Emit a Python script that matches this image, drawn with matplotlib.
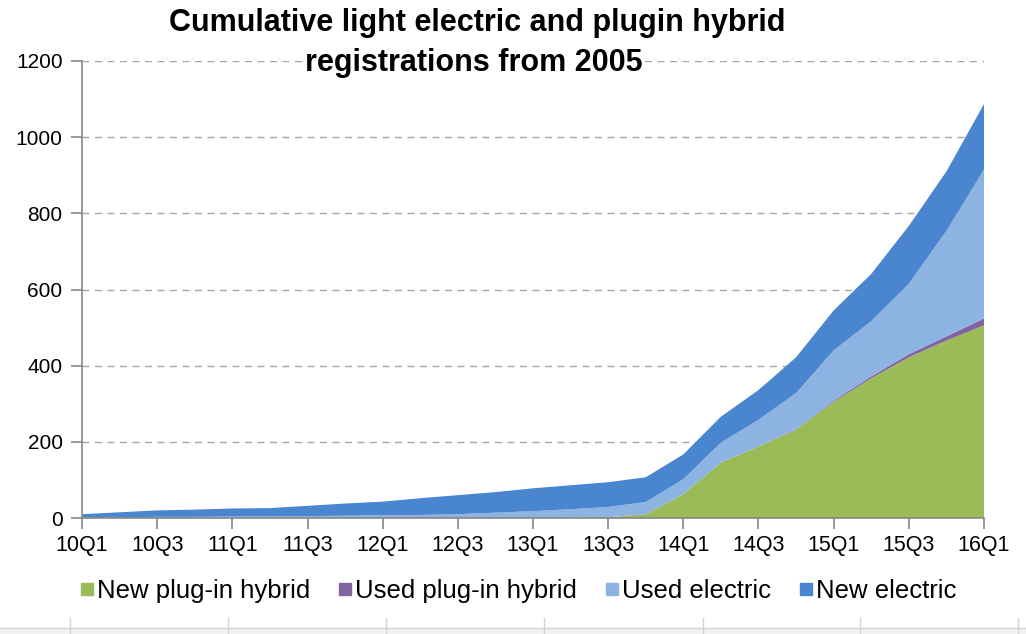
import matplotlib.pyplot as plt
from matplotlib.patches import Rectangle
from matplotlib.lines import Line2D

# Data (cumulative registrations)
quarters = ["10Q1", "10Q2", "10Q3", "10Q4", "11Q1", "11Q2", "11Q3", "11Q4",
            "12Q1", "12Q2", "12Q3", "12Q4", "13Q1", "13Q2", "13Q3", "13Q4",
            "14Q1", "14Q2", "14Q3", "14Q4", "15Q1", "15Q2", "15Q3", "15Q4", "16Q1"]
new_phev = [0, 0, 0, 0, 0, 0, 0, 0, 0, 0, 0, 0, 0, 1, 2, 10,
            63, 146, 188, 232, 305, 367, 422, 466, 506]
used_phev = [0, 0, 0, 0, 0, 0, 0, 0, 0, 0, 0, 0, 0, 0, 0, 0,
             0, 0, 0, 1, 3, 5, 8, 11, 18]
used_elec = [1, 2, 3, 3, 4, 4, 5, 6, 7, 8, 10, 14, 18, 22, 27, 32,
             39, 52, 70, 95, 132, 145, 185, 277, 391]
new_elec = [9, 13, 17, 19, 21, 22, 27, 32, 36, 44, 50, 54, 60, 63, 65, 65,
            65, 68, 78, 94, 105, 124, 152, 156, 172]

series_names = ["New plug-in hybrid", "Used plug-in hybrid", "Used electric", "New electric"]
colors = ["#9BBB59", "#8064A2", "#8DB3E2", "#4A85D0"]
title_lines = ["Cumulative light electric and plugin hybrid", "registrations from 2005"]

plt.rcParams.update({
    "font.family": ["Liberation Sans", "DejaVu Sans"],
    "font.size": 15,
})

fig = plt.figure(figsize=(10.26, 6.34), dpi=100)
ax = fig.add_axes([82 / 1026, 1 - 518 / 634, (984 - 82) / 1026, (518 - 61) / 634])

x = list(range(len(quarters)))
ax.stackplot(x, new_phev, used_phev, used_elec, new_elec, colors=colors,
             labels=series_names, linewidth=0)

ax.set_xlim(0, len(quarters) - 1)
ax.set_ylim(0, 1200)
ax.set_yticks(range(0, 1201, 200))
ax.set_xticks(x[::2])
ax.set_xticklabels(quarters[::2], fontsize=15.5)

ax.grid(axis="y", linestyle=(0, (5, 4)), color="#A6A6A6", linewidth=1)
ax.set_axisbelow(True)
for side in ["top", "right"]:
    ax.spines[side].set_visible(False)
for side in ["left", "bottom"]:
    ax.spines[side].set_color("#868686")
    ax.spines[side].set_linewidth(1.2)
ax.tick_params(axis="both", colors="#868686", labelcolor="black", length=8, width=1.2)
ax.tick_params(axis="x", pad=4)
ax.tick_params(axis="y", pad=6)

# Title: second line sits on the top gridline with a white background
fig.text(0.465, 0.963, title_lines[0], ha="center", va="center",
         fontsize=22, fontweight="bold")
fig.text(0.462, 0.901, title_lines[1], ha="center", va="center",
         fontsize=22, fontweight="bold",
         bbox=dict(facecolor="white", edgecolor="none", pad=1))

# Legend below the chart
handles = [Line2D([], [], marker="s", linestyle="none", markersize=8,
                  markerfacecolor=c, markeredgecolor=c) for c in colors]
fig.legend(handles, series_names, loc="center", bbox_to_anchor=(0.505, 0.068),
           ncol=4, frameon=False, fontsize=18.5, handlelength=0.5, handletextpad=0.15,
           columnspacing=1.1)

# Spreadsheet cell border strip at the bottom
fig.add_artist(Rectangle((0, 0), 1, 6 / 634, transform=fig.transFigure,
                         facecolor="#F2F2F2", edgecolor="none"))
fig.add_artist(Line2D([0, 1], [6 / 634, 6 / 634], transform=fig.transFigure,
                      color="#D4D4D4", linewidth=1))
for px in [70, 228, 386, 544, 703, 860, 1018]:
    fig.add_artist(Line2D([px / 1026, px / 1026], [0, 16 / 634], transform=fig.transFigure,
                          color="#D4D4D4", linewidth=1))

fig.savefig("out.png", dpi=100)
